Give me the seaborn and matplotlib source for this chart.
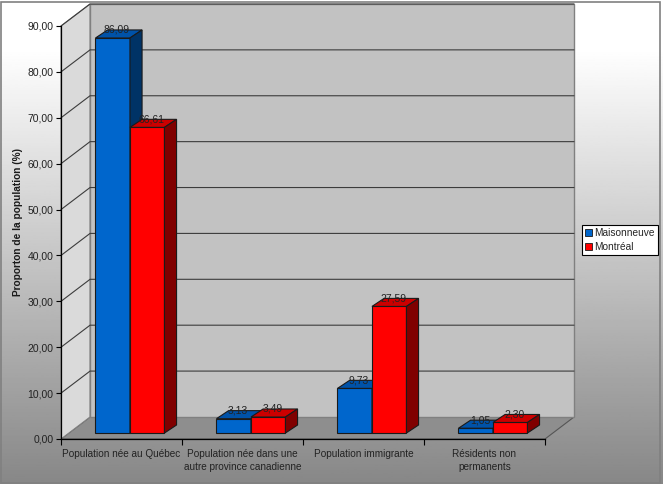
import numpy as np
import pandas as pd
import seaborn as sns
import matplotlib.pyplot as plt
from matplotlib.patches import Polygon, Rectangle

categories = ["Population née au Québec",
              "Population née dans une\nautre province canadienne",
              "Population immigrante",
              "Résidents non\npermanents"]
series = ["Maisonneuve", "Montréal"]
maisonneuve = [86.09, 3.13, 9.73, 1.05]
montreal = [66.61, 3.49, 27.59, 2.30]
yticks = [0, 10, 20, 30, 40, 50, 60, 70, 80, 90]

df = pd.DataFrame({
    "categorie": categories * 2,
    "serie": [series[0]] * 4 + [series[1]] * 4,
    "valeur": maisonneuve + montreal,
})

# couleurs des faces (avant, dessus, côté)
front = ["#0066cc", "#ff0000"]
top_c = ["#0052a8", "#cc0000"]
side_c = ["#003366", "#800000"]

# profondeur "3D" en unités de données
DX, DY = 0.24, 4.8      # mur du fond
BX, BY = 0.07, 1.3      # plan des barres
PX, PY = 0.10, 1.75     # épaisseur des barres

sns.set_theme(style="white")
plt.rcParams["font.family"] = ["Liberation Sans", "DejaVu Sans"]

fig = plt.figure(figsize=(6.63, 4.84), dpi=100)

# fond en dégradé
bg = fig.add_axes([0, 0, 1, 1], zorder=-10)
t = np.linspace(0, 1, 300)
v = np.where(t < 0.1, 1.0, 1.0 - 0.47 * (t - 0.1) / 0.9)
bg.imshow(v[:, None], aspect="auto", cmap="gray", vmin=0, vmax=1, extent=[0, 1, 0, 1])
bg.add_patch(Rectangle((0.002, 0.002), 0.994, 0.994, fill=False, ec="#808080", lw=1.2))
bg.set_xlim(0, 1)
bg.set_ylim(0, 1)
bg.axis("off")

ax = fig.add_axes([61 / 663, 45 / 484, 484 / 663, 413 / 484])
ax.patch.set_alpha(0)

sns.barplot(data=df, x="categorie", y="valeur", hue="serie", palette=front,
            saturation=1, width=0.57, edgecolor="#1a1a1a", linewidth=0.8,
            legend=False, ax=ax, zorder=2)

x0, x1 = -0.5, 3.5
ymax = 90

# murs et sol
ax.add_patch(Polygon([(x0, 0), (x1, 0), (x1 + DX, DY), (x0 + DX, DY)],
                     fc="#8e8e8e", ec="#555555", lw=0.8, clip_on=False, zorder=0.2))
ax.add_patch(Polygon([(x0, 0), (x0, ymax), (x0 + DX, ymax + DY), (x0 + DX, DY)],
                     fc="#dadada", ec="#808080", lw=0.8, clip_on=False, zorder=0.2))
ax.add_patch(Polygon([(x0 + DX, DY), (x1 + DX, DY), (x1 + DX, ymax + DY), (x0 + DX, ymax + DY)],
                     fc="#c2c2c2", ec="#808080", lw=1.0, clip_on=False, zorder=0.2))
for y in yticks[1:]:
    ax.plot([x0, x0 + DX, x1 + DX], [y, y + DY, y + DY], color="#3c3c3c", lw=0.8,
            clip_on=False, zorder=0.3)

# faces 3D des barres
for k, cont in enumerate(ax.containers):
    for bar in cont:
        bar.set_x(bar.get_x() + BX)
        bar.set_y(BY)
        bar.set_zorder(2 + k)
        bx, w, h = bar.get_x(), bar.get_width(), bar.get_height()
        yt = BY + h
        ax.add_patch(Polygon([(bx, yt), (bx + w, yt), (bx + w + PX, yt + PY), (bx + PX, yt + PY)],
                             fc=top_c[k], ec="#1a1a1a", lw=0.8, zorder=2 + k))
        ax.add_patch(Polygon([(bx + w, BY), (bx + w + PX, BY + PY), (bx + w + PX, yt + PY), (bx + w, yt)],
                             fc=side_c[k], ec="#1a1a1a", lw=0.8, zorder=2 + k))
        ax.text(bx + w / 2 + PX * 0.35, yt + PY, f"{h:.2f}".replace(".", ","),
                ha="center", va="center", fontsize=7.5, color="#222222", zorder=6)

ax.set_xlim(x0, x1)
ax.set_ylim(0, ymax)
ax.set_yticks(yticks)
ax.set_yticklabels([f"{y:.2f}".replace(".", ",") for y in yticks], fontsize=7.5, color="#222222")
ax.set_xticks(range(len(categories)))
ax.set_xticklabels(categories, fontsize=7.2, color="#222222", linespacing=1.3)
ax.set_xticks([-0.5, 0.5, 1.5, 2.5, 3.5], minor=True)
ax.tick_params(axis="x", which="major", length=0, pad=7.5)
ax.tick_params(axis="x", which="minor", bottom=True, direction="out", length=4.5, width=0.8, color="black")
ax.tick_params(axis="y", left=True, direction="out", length=3.5, width=0.8, color="black", pad=2)
ax.set_xlabel("")
ax.set_ylabel("Proporton de la population (%)", fontsize=7.3, fontweight="bold", color="#1a1a1a")
ax.yaxis.set_label_coords(-0.078, 0.525)

sns.despine(ax=ax)
for s in ["left", "bottom"]:
    ax.spines[s].set_color("black")
    ax.spines[s].set_linewidth(0.9)

handles = [Rectangle((0, 0), 1, 1, fc=c, ec="#1a1a1a", lw=0.6) for c in front]
leg = ax.legend(handles, series, loc="center left", bbox_to_anchor=(582 / 663, 1 - 240 / 484),
                bbox_transform=fig.transFigure, fontsize=7.3, frameon=True, fancybox=False,
                handlelength=0.7, handleheight=0.7, handletextpad=0.2, borderpad=0.3,
                labelspacing=0.35, borderaxespad=0)
leg.get_frame().set_edgecolor("black")
leg.get_frame().set_linewidth(0.8)
leg.get_frame().set_facecolor("white")
leg.get_frame().set_alpha(1)

fig.savefig("out.png", dpi=100)
